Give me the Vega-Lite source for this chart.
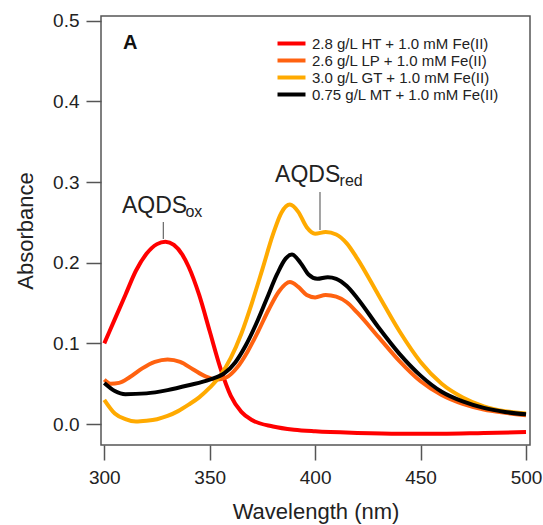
{
  "$schema": "https://vega.github.io/schema/vega-lite/v6.json",
  "width": 429,
  "height": 429,
  "autosize": {"type": "none"},
  "padding": {"left": 101, "top": 16, "right": 13, "bottom": 80},
  "background": "white",
  "config": {
    "font": "Liberation Sans",
    "view": {"stroke": "#555", "strokeWidth": 1.5},
    "axis": {
      "domain": false,
      "grid": false,
      "ticks": true,
      "tickSize": 15,
      "tickColor": "#555",
      "tickWidth": 1.5,
      "labelFont": "Liberation Sans",
      "labelFontSize": 19,
      "labelColor": "#222",
      "titleFont": "Liberation Sans",
      "titleFontSize": 22,
      "titleFontWeight": "normal",
      "titleColor": "#222"
    }
  },
  "datasets": {
    "spectra": [
      {"s": "2.8 g/L HT + 1.0 mM Fe(II)", "w": 300, "a": 0.100},
      {"s": "2.8 g/L HT + 1.0 mM Fe(II)", "w": 305, "a": 0.130},
      {"s": "2.8 g/L HT + 1.0 mM Fe(II)", "w": 310, "a": 0.160},
      {"s": "2.8 g/L HT + 1.0 mM Fe(II)", "w": 315, "a": 0.190},
      {"s": "2.8 g/L HT + 1.0 mM Fe(II)", "w": 320, "a": 0.211},
      {"s": "2.8 g/L HT + 1.0 mM Fe(II)", "w": 325, "a": 0.223},
      {"s": "2.8 g/L HT + 1.0 mM Fe(II)", "w": 329, "a": 0.226},
      {"s": "2.8 g/L HT + 1.0 mM Fe(II)", "w": 333, "a": 0.222},
      {"s": "2.8 g/L HT + 1.0 mM Fe(II)", "w": 337, "a": 0.210},
      {"s": "2.8 g/L HT + 1.0 mM Fe(II)", "w": 340, "a": 0.195},
      {"s": "2.8 g/L HT + 1.0 mM Fe(II)", "w": 345, "a": 0.160},
      {"s": "2.8 g/L HT + 1.0 mM Fe(II)", "w": 350, "a": 0.115},
      {"s": "2.8 g/L HT + 1.0 mM Fe(II)", "w": 355, "a": 0.070},
      {"s": "2.8 g/L HT + 1.0 mM Fe(II)", "w": 360, "a": 0.035},
      {"s": "2.8 g/L HT + 1.0 mM Fe(II)", "w": 365, "a": 0.015},
      {"s": "2.8 g/L HT + 1.0 mM Fe(II)", "w": 370, "a": 0.005},
      {"s": "2.8 g/L HT + 1.0 mM Fe(II)", "w": 380, "a": -0.003},
      {"s": "2.8 g/L HT + 1.0 mM Fe(II)", "w": 390, "a": -0.007},
      {"s": "2.8 g/L HT + 1.0 mM Fe(II)", "w": 400, "a": -0.009},
      {"s": "2.8 g/L HT + 1.0 mM Fe(II)", "w": 420, "a": -0.011},
      {"s": "2.8 g/L HT + 1.0 mM Fe(II)", "w": 440, "a": -0.012},
      {"s": "2.8 g/L HT + 1.0 mM Fe(II)", "w": 460, "a": -0.012},
      {"s": "2.8 g/L HT + 1.0 mM Fe(II)", "w": 480, "a": -0.011},
      {"s": "2.8 g/L HT + 1.0 mM Fe(II)", "w": 500, "a": -0.010},

      {"s": "2.6 g/L LP + 1.0 mM Fe(II)", "w": 300, "a": 0.055},
      {"s": "2.6 g/L LP + 1.0 mM Fe(II)", "w": 303, "a": 0.050},
      {"s": "2.6 g/L LP + 1.0 mM Fe(II)", "w": 307, "a": 0.051},
      {"s": "2.6 g/L LP + 1.0 mM Fe(II)", "w": 312, "a": 0.058},
      {"s": "2.6 g/L LP + 1.0 mM Fe(II)", "w": 318, "a": 0.069},
      {"s": "2.6 g/L LP + 1.0 mM Fe(II)", "w": 324, "a": 0.077},
      {"s": "2.6 g/L LP + 1.0 mM Fe(II)", "w": 330, "a": 0.080},
      {"s": "2.6 g/L LP + 1.0 mM Fe(II)", "w": 336, "a": 0.077},
      {"s": "2.6 g/L LP + 1.0 mM Fe(II)", "w": 342, "a": 0.068},
      {"s": "2.6 g/L LP + 1.0 mM Fe(II)", "w": 348, "a": 0.059},
      {"s": "2.6 g/L LP + 1.0 mM Fe(II)", "w": 353, "a": 0.055},
      {"s": "2.6 g/L LP + 1.0 mM Fe(II)", "w": 358, "a": 0.058},
      {"s": "2.6 g/L LP + 1.0 mM Fe(II)", "w": 363, "a": 0.070},
      {"s": "2.6 g/L LP + 1.0 mM Fe(II)", "w": 368, "a": 0.090},
      {"s": "2.6 g/L LP + 1.0 mM Fe(II)", "w": 373, "a": 0.115},
      {"s": "2.6 g/L LP + 1.0 mM Fe(II)", "w": 378, "a": 0.142},
      {"s": "2.6 g/L LP + 1.0 mM Fe(II)", "w": 383, "a": 0.165},
      {"s": "2.6 g/L LP + 1.0 mM Fe(II)", "w": 388, "a": 0.176},
      {"s": "2.6 g/L LP + 1.0 mM Fe(II)", "w": 392, "a": 0.170},
      {"s": "2.6 g/L LP + 1.0 mM Fe(II)", "w": 396, "a": 0.160},
      {"s": "2.6 g/L LP + 1.0 mM Fe(II)", "w": 400, "a": 0.157},
      {"s": "2.6 g/L LP + 1.0 mM Fe(II)", "w": 405, "a": 0.160},
      {"s": "2.6 g/L LP + 1.0 mM Fe(II)", "w": 410, "a": 0.158},
      {"s": "2.6 g/L LP + 1.0 mM Fe(II)", "w": 415, "a": 0.151},
      {"s": "2.6 g/L LP + 1.0 mM Fe(II)", "w": 420, "a": 0.138},
      {"s": "2.6 g/L LP + 1.0 mM Fe(II)", "w": 430, "a": 0.108},
      {"s": "2.6 g/L LP + 1.0 mM Fe(II)", "w": 440, "a": 0.078},
      {"s": "2.6 g/L LP + 1.0 mM Fe(II)", "w": 450, "a": 0.053},
      {"s": "2.6 g/L LP + 1.0 mM Fe(II)", "w": 460, "a": 0.036},
      {"s": "2.6 g/L LP + 1.0 mM Fe(II)", "w": 470, "a": 0.025},
      {"s": "2.6 g/L LP + 1.0 mM Fe(II)", "w": 480, "a": 0.018},
      {"s": "2.6 g/L LP + 1.0 mM Fe(II)", "w": 490, "a": 0.014},
      {"s": "2.6 g/L LP + 1.0 mM Fe(II)", "w": 500, "a": 0.011},

      {"s": "3.0 g/L GT + 1.0 mM Fe(II)", "w": 300, "a": 0.030},
      {"s": "3.0 g/L GT + 1.0 mM Fe(II)", "w": 305, "a": 0.013},
      {"s": "3.0 g/L GT + 1.0 mM Fe(II)", "w": 310, "a": 0.006},
      {"s": "3.0 g/L GT + 1.0 mM Fe(II)", "w": 315, "a": 0.003},
      {"s": "3.0 g/L GT + 1.0 mM Fe(II)", "w": 320, "a": 0.004},
      {"s": "3.0 g/L GT + 1.0 mM Fe(II)", "w": 325, "a": 0.006},
      {"s": "3.0 g/L GT + 1.0 mM Fe(II)", "w": 330, "a": 0.010},
      {"s": "3.0 g/L GT + 1.0 mM Fe(II)", "w": 335, "a": 0.016},
      {"s": "3.0 g/L GT + 1.0 mM Fe(II)", "w": 340, "a": 0.024},
      {"s": "3.0 g/L GT + 1.0 mM Fe(II)", "w": 345, "a": 0.033},
      {"s": "3.0 g/L GT + 1.0 mM Fe(II)", "w": 350, "a": 0.045},
      {"s": "3.0 g/L GT + 1.0 mM Fe(II)", "w": 355, "a": 0.060},
      {"s": "3.0 g/L GT + 1.0 mM Fe(II)", "w": 360, "a": 0.082},
      {"s": "3.0 g/L GT + 1.0 mM Fe(II)", "w": 365, "a": 0.112},
      {"s": "3.0 g/L GT + 1.0 mM Fe(II)", "w": 370, "a": 0.150},
      {"s": "3.0 g/L GT + 1.0 mM Fe(II)", "w": 375, "a": 0.192},
      {"s": "3.0 g/L GT + 1.0 mM Fe(II)", "w": 380, "a": 0.235},
      {"s": "3.0 g/L GT + 1.0 mM Fe(II)", "w": 384, "a": 0.262},
      {"s": "3.0 g/L GT + 1.0 mM Fe(II)", "w": 388, "a": 0.272},
      {"s": "3.0 g/L GT + 1.0 mM Fe(II)", "w": 392, "a": 0.263},
      {"s": "3.0 g/L GT + 1.0 mM Fe(II)", "w": 396, "a": 0.244},
      {"s": "3.0 g/L GT + 1.0 mM Fe(II)", "w": 400, "a": 0.236},
      {"s": "3.0 g/L GT + 1.0 mM Fe(II)", "w": 405, "a": 0.238},
      {"s": "3.0 g/L GT + 1.0 mM Fe(II)", "w": 410, "a": 0.235},
      {"s": "3.0 g/L GT + 1.0 mM Fe(II)", "w": 415, "a": 0.224},
      {"s": "3.0 g/L GT + 1.0 mM Fe(II)", "w": 420, "a": 0.205},
      {"s": "3.0 g/L GT + 1.0 mM Fe(II)", "w": 430, "a": 0.160},
      {"s": "3.0 g/L GT + 1.0 mM Fe(II)", "w": 440, "a": 0.115},
      {"s": "3.0 g/L GT + 1.0 mM Fe(II)", "w": 450, "a": 0.077},
      {"s": "3.0 g/L GT + 1.0 mM Fe(II)", "w": 460, "a": 0.050},
      {"s": "3.0 g/L GT + 1.0 mM Fe(II)", "w": 470, "a": 0.033},
      {"s": "3.0 g/L GT + 1.0 mM Fe(II)", "w": 480, "a": 0.022},
      {"s": "3.0 g/L GT + 1.0 mM Fe(II)", "w": 490, "a": 0.016},
      {"s": "3.0 g/L GT + 1.0 mM Fe(II)", "w": 500, "a": 0.013},

      {"s": "0.75 g/L MT + 1.0 mM Fe(II)", "w": 300, "a": 0.051},
      {"s": "0.75 g/L MT + 1.0 mM Fe(II)", "w": 305, "a": 0.041},
      {"s": "0.75 g/L MT + 1.0 mM Fe(II)", "w": 310, "a": 0.037},
      {"s": "0.75 g/L MT + 1.0 mM Fe(II)", "w": 320, "a": 0.038},
      {"s": "0.75 g/L MT + 1.0 mM Fe(II)", "w": 330, "a": 0.042},
      {"s": "0.75 g/L MT + 1.0 mM Fe(II)", "w": 340, "a": 0.048},
      {"s": "0.75 g/L MT + 1.0 mM Fe(II)", "w": 350, "a": 0.055},
      {"s": "0.75 g/L MT + 1.0 mM Fe(II)", "w": 357, "a": 0.063},
      {"s": "0.75 g/L MT + 1.0 mM Fe(II)", "w": 362, "a": 0.076},
      {"s": "0.75 g/L MT + 1.0 mM Fe(II)", "w": 367, "a": 0.097},
      {"s": "0.75 g/L MT + 1.0 mM Fe(II)", "w": 372, "a": 0.124},
      {"s": "0.75 g/L MT + 1.0 mM Fe(II)", "w": 377, "a": 0.155},
      {"s": "0.75 g/L MT + 1.0 mM Fe(II)", "w": 382, "a": 0.186},
      {"s": "0.75 g/L MT + 1.0 mM Fe(II)", "w": 386, "a": 0.205},
      {"s": "0.75 g/L MT + 1.0 mM Fe(II)", "w": 389, "a": 0.210},
      {"s": "0.75 g/L MT + 1.0 mM Fe(II)", "w": 393, "a": 0.200},
      {"s": "0.75 g/L MT + 1.0 mM Fe(II)", "w": 397, "a": 0.185},
      {"s": "0.75 g/L MT + 1.0 mM Fe(II)", "w": 401, "a": 0.180},
      {"s": "0.75 g/L MT + 1.0 mM Fe(II)", "w": 406, "a": 0.182},
      {"s": "0.75 g/L MT + 1.0 mM Fe(II)", "w": 410, "a": 0.180},
      {"s": "0.75 g/L MT + 1.0 mM Fe(II)", "w": 415, "a": 0.171},
      {"s": "0.75 g/L MT + 1.0 mM Fe(II)", "w": 420, "a": 0.156},
      {"s": "0.75 g/L MT + 1.0 mM Fe(II)", "w": 430, "a": 0.120},
      {"s": "0.75 g/L MT + 1.0 mM Fe(II)", "w": 440, "a": 0.087},
      {"s": "0.75 g/L MT + 1.0 mM Fe(II)", "w": 450, "a": 0.060},
      {"s": "0.75 g/L MT + 1.0 mM Fe(II)", "w": 460, "a": 0.040},
      {"s": "0.75 g/L MT + 1.0 mM Fe(II)", "w": 470, "a": 0.028},
      {"s": "0.75 g/L MT + 1.0 mM Fe(II)", "w": 480, "a": 0.020},
      {"s": "0.75 g/L MT + 1.0 mM Fe(II)", "w": 490, "a": 0.015},
      {"s": "0.75 g/L MT + 1.0 mM Fe(II)", "w": 500, "a": 0.012}
    ],
    "bigText": [
      {"t": "AQDS", "w": 308.4, "a": 0.2616},
      {"t": "AQDS", "w": 381.0, "a": 0.300}
    ],
    "subText": [
      {"t": "ox", "w": 338.5, "a": 0.2566},
      {"t": "red", "w": 411.6, "a": 0.2951}
    ],
    "leaders": [
      {"w": 328.0, "a": 0.2504, "a2": 0.2294},
      {"w": 402.3, "a": 0.2876, "a2": 0.2405}
    ],
    "panel": [
      {"t": "A", "w": 312.3, "a": 0.472}
    ]
  },
  "layer": [
    {
      "data": {"name": "spectra"},
      "mark": {"type": "line", "strokeWidth": 4, "interpolate": "monotone", "clip": true},
      "encoding": {
        "x": {
          "field": "w", "type": "quantitative",
          "scale": {"domain": [298.44, 501.9], "nice": false, "zero": false},
          "axis": {"values": [300, 350, 400, 450, 500], "title": "Wavelength (nm)", "labelPadding": 8, "titlePadding": 14}
        },
        "y": {
          "field": "a", "type": "quantitative",
          "scale": {"domain": [-0.026, 0.5058], "nice": false, "zero": false},
          "axis": {"values": [0, 0.1, 0.2, 0.3, 0.4, 0.5], "format": ".1f", "title": "Absorbance", "labelPadding": 7, "titlePadding": 15}
        },
        "color": {
          "field": "s", "type": "nominal",
          "scale": {
            "domain": ["2.8 g/L HT + 1.0 mM Fe(II)", "2.6 g/L LP + 1.0 mM Fe(II)", "3.0 g/L GT + 1.0 mM Fe(II)", "0.75 g/L MT + 1.0 mM Fe(II)"],
            "range": ["#ff0000", "#ff6210", "#ffaa00", "#000000"]
          },
          "legend": {
            "title": null,
            "orient": "none",
            "legendX": 183,
            "legendY": 20,
            "padding": 0,
            "symbolType": "M-3,0H3",
            "symbolStrokeWidth": 4,
            "symbolSize": 87,
            "labelFont": "Liberation Sans",
            "labelFontSize": 15,
            "labelColor": "#222",
            "labelOffset": 13,
            "rowPadding": 0,
            "labelLimit": 400
          }
        }
      }
    },
    {
      "data": {"name": "leaders"},
      "mark": {"type": "rule", "color": "#666", "strokeWidth": 1.2},
      "encoding": {
        "x": {"field": "w", "type": "quantitative"},
        "y": {"field": "a", "type": "quantitative"},
        "y2": {"field": "a2"}
      }
    },
    {
      "data": {"name": "bigText"},
      "mark": {"type": "text", "align": "left", "baseline": "alphabetic", "fontSize": 23, "font": "Liberation Sans", "color": "#222"},
      "encoding": {
        "x": {"field": "w", "type": "quantitative"},
        "y": {"field": "a", "type": "quantitative"},
        "text": {"field": "t"}
      }
    },
    {
      "data": {"name": "subText"},
      "mark": {"type": "text", "align": "left", "baseline": "alphabetic", "fontSize": 16, "font": "Liberation Sans", "color": "#222"},
      "encoding": {
        "x": {"field": "w", "type": "quantitative"},
        "y": {"field": "a", "type": "quantitative"},
        "text": {"field": "t"}
      }
    },
    {
      "data": {"name": "panel"},
      "mark": {"type": "text", "align": "center", "baseline": "middle", "fontSize": 20, "fontWeight": "bold", "font": "Liberation Sans", "color": "#111"},
      "encoding": {
        "x": {"field": "w", "type": "quantitative"},
        "y": {"field": "a", "type": "quantitative"},
        "text": {"field": "t"}
      }
    }
  ]
}
